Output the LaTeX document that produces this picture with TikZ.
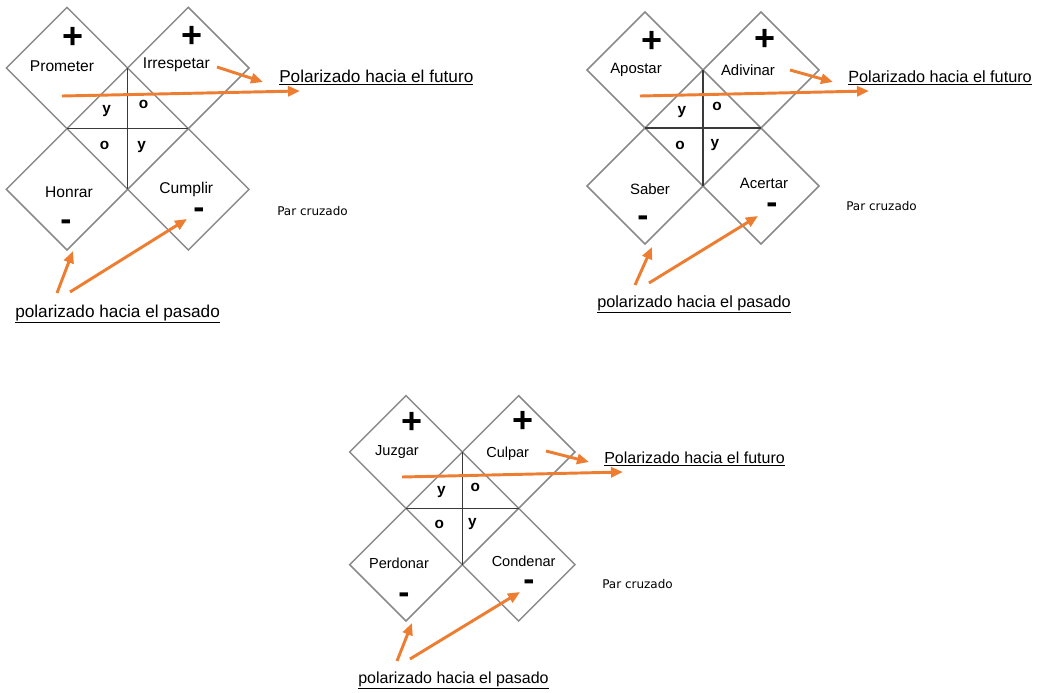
\documentclass[tikz,border=0pt]{standalone}
\usepackage{fontspec}
\setmainfont{Liberation Sans}
\newfontfamily\parfont{DejaVu Sans}
\usetikzlibrary{positioning, arrows.meta, shapes.geometric}
\definecolor{flechaNaranja}{HTML}{ED7D31}
\definecolor{bordeGris}{HTML}{8A8A8A}
\definecolor{cruzGris}{HTML}{3A3A3A}

\begin{document}
\begin{tikzpicture}[
    x=0.75pt, y=-0.75pt,
    node distance=0pt,
    rombo/.style={diamond, draw=bordeGris, line width=1.1pt, inner sep=0pt,
                  outer sep=0pt, minimum width=#1, minimum height=#1},
    verbo/.style={font=\fontsize{#1}{#1}\selectfont, inner sep=0pt},
    signo/.style={font=\fontsize{27}{27}\selectfont\bfseries, inner sep=0pt},
    menos/.style={font=\fontsize{25}{25}\selectfont\bfseries, inner sep=0pt},
    conj/.style={font=\fontsize{11.5}{11.5}\selectfont\bfseries, inner sep=0pt},
    cruz/.style={draw=cruzGris, line width=0.8pt},
    polar/.style={font=\fontsize{#1}{#1}\selectfont, anchor=base west, inner sep=0pt},
    cruzado/.style={font=\parfont\fontsize{9}{9}\selectfont, anchor=west, inner sep=0pt},
    arr/.style={-{Triangle[length=9pt,width=7.5pt]}, draw=flechaNaranja, line width=2.2pt},
  ]
    \useasboundingbox (0,0) rectangle (1040,693);

    % Prometer / Irrespetar / Honrar / Cumplir
    \node[rombo=91pt] (tl1) at (67,68) {};
    \node[rombo=91pt, right=of tl1] (tr1) {};
    \node[rombo=91pt, below=of tl1] (bl1) {};
    \node[rombo=91pt, right=of bl1] (br1) {};
    \draw[cruz] (tl1.east) -- (bl1.east);
    \draw[cruz] (tl1.south) -- (tr1.south);
    \coordinate (c1) at (tl1.east |- tl1.south);

    \node[verbo=11.7] (w1a) at ([shift={(-5,-2)}]tl1.center)  {Prometer};
    \node[verbo=11.7] (w1b) at ([shift={(-12,-3)}]tr1.center) {Irrespetar};
    \node[verbo=11.7] (w1c) at ([shift={(2,3)}]bl1.center)    {Honrar};
    \node[verbo=11.7] (w1d) at ([shift={(-2,0)}]br1.center)   {Cumplir};

    \node[signo] (s1a) at (73,38)   {+};
    \node[signo] (s1b) at (192,37)  {+};
    \node[menos] (s1c) at (66,225)  {-};
    \node[menos] (s1d) at (199,213) {-};

    \node[conj] (k1a) at ([shift={(-21,-18)}]c1) {y};
    \node[conj] (k1b) at ([shift={(16,-24)}]c1)  {o};
    \node[conj] (k1c) at ([shift={(-23,17)}]c1)  {o};
    \node[conj] (k1d) at ([shift={(14,18)}]c1)   {y};

    \node[polar=12.9] (fut1) at (279,82) {\underline{Polarizado hacia el futuro}};
    \node[polar=12.9] (pas1) at (15,317) {\underline{polarizado hacia el pasado}};
    \node[cruzado] (par1) at (277,211) {Par cruzado};

    \coordinate (f1a) at (62,96);   \coordinate (f1b) at (300,91);
    \coordinate (f1c) at (217,67);  \coordinate (f1d) at (263,82);
    \coordinate (p1a) at (57,293);  \coordinate (p1b) at (73,251);
    \coordinate (p1c) at (70,292);  \coordinate (p1d) at (187,219);
    \draw[arr] (f1a) -- (f1b);
    \draw[arr] (f1c) -- (f1d);
    \draw[arr] (p1a) -- (p1b);
    \draw[arr] (p1c) -- (p1d);

    % Apostar / Adivinar / Saber / Acertar
    \node[rombo=87pt] (tl2) at (645,70) {};
    \node[rombo=87pt, right=of tl2] (tr2) {};
    \node[rombo=87pt, below=of tl2] (bl2) {};
    \node[rombo=87pt, right=of bl2] (br2) {};
    \draw[cruz] (tl2.east) -- (bl2.east);
    \draw[cruz] (tl2.south) -- (tr2.south);
    \coordinate (c2) at (tl2.east |- tl2.south);

    \node[verbo=11.2] (w2a) at ([shift={(-9,0)}]tl2.center)  {Apostar};
    \node[verbo=11.2] (w2b) at ([shift={(-13,0)}]tr2.center) {Adivinar};
    \node[verbo=11.2] (w2c) at ([shift={(5,3)}]bl2.center)   {Saber};
    \node[verbo=11.2] (w2d) at ([shift={(3,-3)}]br2.center)  {Acertar};

    \node[signo] (s2a) at (652,42)  {+};
    \node[signo] (s2b) at (765,40)  {+};
    \node[menos] (s2c) at (643,221) {-};
    \node[menos] (s2d) at (772,208) {-};

    \node[conj] (k2a) at ([shift={(-21,-16)}]c2) {y};
    \node[conj] (k2b) at ([shift={(14,-22)}]c2)  {o};
    \node[conj] (k2c) at ([shift={(-23,17)}]c2)  {o};
    \node[conj] (k2d) at ([shift={(12,17)}]c2)   {y};

    \node[polar=12.2] (fut2) at (848,82)  {\underline{Polarizado hacia el futuro}};
    \node[polar=12.2] (pas2) at (597,307) {\underline{polarizado hacia el pasado}};
    \node[cruzado] (par2) at (846,206) {Par cruzado};

    \coordinate (f2a) at (640,96);  \coordinate (f2b) at (869,91);
    \coordinate (f2c) at (790,70);  \coordinate (f2d) at (833,82);
    \coordinate (p2a) at (635,285); \coordinate (p2b) at (652,247);
    \coordinate (p2c) at (649,283); \coordinate (p2d) at (758,216);
    \draw[arr] (f2a) -- (f2b);
    \draw[arr] (f2c) -- (f2d);
    \draw[arr] (p2a) -- (p2b);
    \draw[arr] (p2c) -- (p2d);

    % Juzgar / Culpar / Perdonar / Condenar
    \node[rombo=84.5pt] (tl3) at (406,452) {};
    \node[rombo=84.5pt, right=of tl3] (tr3) {};
    \node[rombo=84.5pt, below=of tl3] (bl3) {};
    \node[rombo=84.5pt, right=of bl3] (br3) {};
    \draw[cruz] (tl3.east) -- (bl3.east);
    \draw[cruz] (tl3.south) -- (tr3.south);
    \coordinate (c3) at (tl3.east |- tl3.south);

    \node[verbo=10.9] (w3a) at ([shift={(-9,0)}]tl3.center)  {Juzgar};
    \node[verbo=10.9] (w3b) at ([shift={(-11,2)}]tr3.center) {Culpar};
    \node[verbo=10.9] (w3c) at ([shift={(-7,-1)}]bl3.center) {Perdonar};
    \node[verbo=10.9] (w3d) at ([shift={(5,-3)}]br3.center)  {Condenar};

    \node[signo] (s3a) at (412,423) {+};
    \node[signo] (s3b) at (523,422) {+};
    \node[menos] (s3c) at (404,598) {-};
    \node[menos] (s3d) at (529,585) {-};

    \node[conj] (k3a) at ([shift={(-21,-16)}]c3) {y};
    \node[conj] (k3b) at ([shift={(13,-21)}]c3)  {o};
    \node[conj] (k3c) at ([shift={(-23,16)}]c3)  {o};
    \node[conj] (k3d) at ([shift={(10,16)}]c3)   {y};

    \node[polar=12] (fut3) at (604,463) {\underline{Polarizado hacia el futuro}};
    \node[polar=12] (pas3) at (358,683) {\underline{polarizado hacia el pasado}};
    \node[cruzado] (par3) at (602,584) {Par cruzado};

    \coordinate (f3a) at (402,477); \coordinate (f3b) at (623,472);
    \coordinate (f3c) at (546,451); \coordinate (f3d) at (589,462);
    \coordinate (p3a) at (397,661); \coordinate (p3b) at (412,623);
    \coordinate (p3c) at (410,659); \coordinate (p3d) at (520,592);
    \draw[arr] (f3a) -- (f3b);
    \draw[arr] (f3c) -- (f3d);
    \draw[arr] (p3a) -- (p3b);
    \draw[arr] (p3c) -- (p3d);
  \end{tikzpicture}
\end{document}
